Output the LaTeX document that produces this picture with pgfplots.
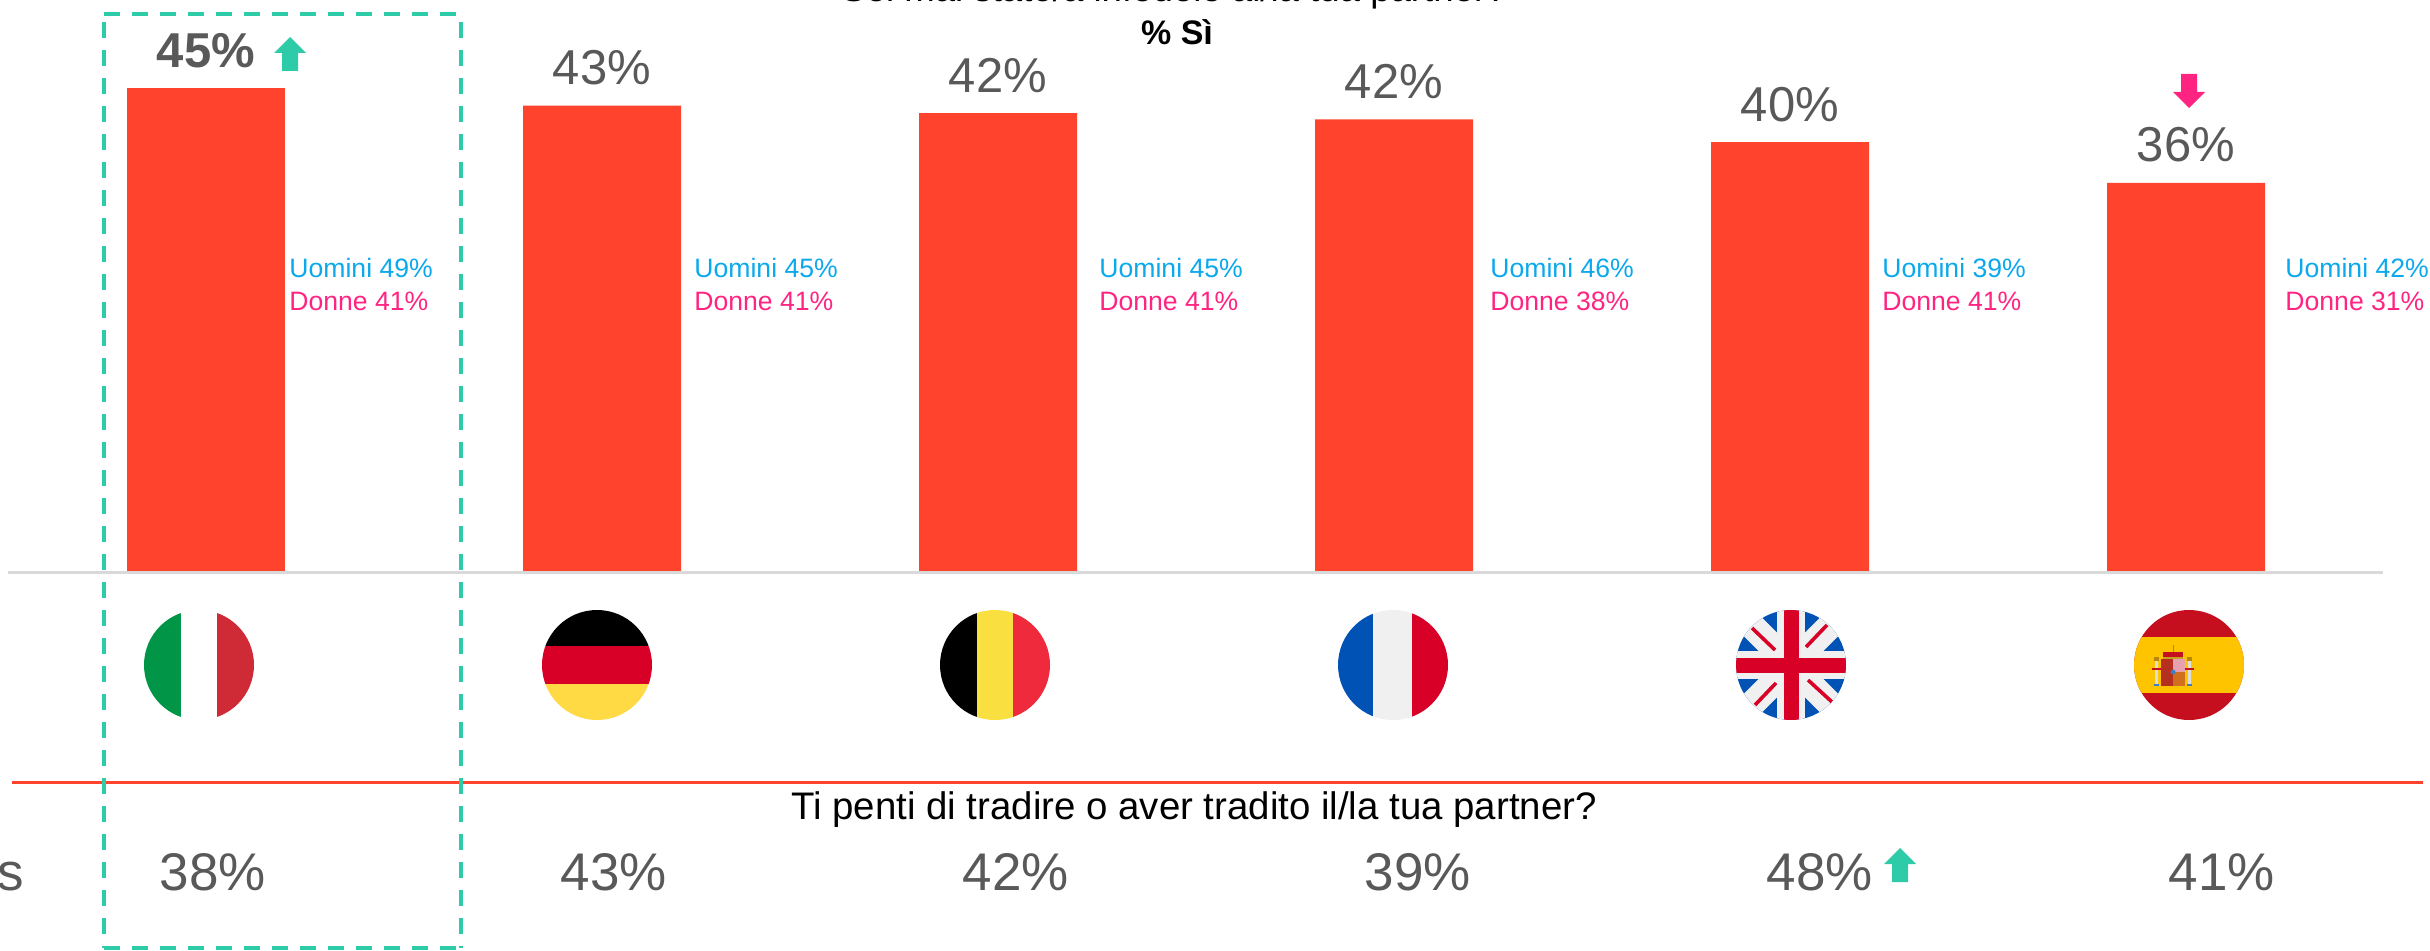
\documentclass[border=0pt]{standalone}
\usepackage{pgfplots}
\pgfplotsset{compat=1.18}
\usepackage{fontspec}
\setmainfont{Liberation Sans}
\definecolor{barred}{HTML}{FF432C}
\definecolor{txtg}{HTML}{595959}
\definecolor{teal}{HTML}{2ECBA8}
\definecolor{blu}{HTML}{0BA8EC}
\definecolor{pnk}{HTML}{FF2482}
\definecolor{fred}{HTML}{D80027}
\definecolor{fblue}{HTML}{0052B4}
\definecolor{fwhite}{HTML}{F0F0F0}
\definecolor{fgold}{HTML}{FFDA44}
\definecolor{itg}{HTML}{019547}
\definecolor{itr}{HTML}{CE2B37}
\definecolor{bey}{HTML}{FADF40}
\definecolor{ber}{HTML}{EE2A3C}
\definecolor{esr}{HTML}{C60F1E}
\definecolor{esy}{HTML}{FFC400}
\definecolor{emg}{HTML}{C8A020}
\definecolor{emd}{HTML}{B8860B}
\definecolor{emc}{HTML}{DDDDDD}
\definecolor{emb}{HTML}{3F7FBF}
\definecolor{emr}{HTML}{B5301E}
\definecolor{emp}{HTML}{E6A0B0}
\definecolor{emo}{HTML}{D0701E}
\newcommand{\uparr}[2]{\fill[teal] (#1,#2) -- ++(16,16) -- ++(-8,0) -- ++(0,18) -- ++(-16,0) -- ++(0,-18) -- ++(-8,0) -- cycle;}
\newcommand{\fM}{\fontsize{24.5}{28}\selectfont}
\newcommand{\fB}{\fontsize{26.5}{30}\selectfont}
\newcommand{\fS}{\fontsize{13.3}{16}\selectfont}
\newcommand{\fT}{\fontsize{17}{20}\selectfont}
\newcommand{\fQ}{\fontsize{19.2}{23}\selectfont}
\begin{document}
\begin{tikzpicture}
\path[use as bounding box, clip] (0,0) rectangle (1215pt,475pt);
\begin{axis}[
  at={(0,0)}, anchor=south west, scale only axis,
  width=1215pt, height=475pt,
  xmin=0, xmax=2430, ymin=-35.2558, ymax=53.1163,
  hide axis, clip=false,
  ybar, bar width=79pt, bar shift=0pt,
  point meta=explicit symbolic,
  nodes near coords={\pgfplotspointmeta\%},
  every node near coord/.append style={anchor=base, yshift=10.5pt, text=txtg, font=\fM, inner sep=0pt},
]
\addplot[draw=none, fill=barred, every node near coord/.append style={font=\fM\bfseries}] coordinates {(206,44.9) [45]};
\addplot[draw=none, fill=barred] coordinates {(602,43.3) [43] (998,42.6) [42] (1394,42.0) [42] (1790,39.9) [40] (2186,36.1) [36]};
\end{axis}
\begin{scope}[shift={(0,475pt)}, x=0.5pt, y=-0.5pt]
  % lines
  \draw[line width=1.5pt, color=black!15] (8,572) -- (2383,572);
  \draw[line width=1.5pt, color=barred] (12,782) -- (2423,782);
  % highlight box
  \draw[teal, line width=2.4pt, dash pattern=on 8pt off 6pt] (104,14) -- (461,14);
  \draw[teal, line width=2.4pt, dash pattern=on 8pt off 6pt] (104,948) -- (461,948);
  \draw[teal, line width=1.8pt, dash pattern=on 8pt off 6pt] (104,22) -- (104,948);
  \draw[teal, line width=1.8pt, dash pattern=on 8pt off 6pt] (461,22) -- (461,948);
  % titles
  \node[anchor=base, inner sep=0pt, font=\fontsize{18.3}{22}\selectfont] at (1174,2) {Sei mai stato/a infedele al/la tua partner?};
  \node[anchor=base, inner sep=0pt, font=\fT\bfseries] at (1177,45) {\% Sì};
  \node[anchor=base, inner sep=0pt, font=\fQ] at (1194,819) {Ti penti di tradire o aver tradito il/la tua partner?};
  % arrows
  \uparr{290}{37}
  \uparr{1900}{848}
  \fill[pnk] (2189,108) -- ++(16,-16) -- ++(-8,0) -- ++(0,-18) -- ++(-16,0) -- ++(0,18) -- ++(-8,0) -- cycle;
  % gender
  \foreach \x/\u/\d in {289/49/41, 694/45/41, 1099/45/41, 1490/46/38, 1882/39/41, 2285/42/31}{
    \node[anchor=base west, inner sep=0pt, font=\fS, text=blu] at (\x,277) {Uomini \u\%};
    \node[anchor=base west, inner sep=0pt, font=\fS, text=pnk] at (\x,310) {Donne \d\%};
  }
  % bottom row
  \foreach \x/\v in {213/38, 614/43, 1016/42, 1418/39, 1820/48, 2222/41}{
    \node[anchor=base, inner sep=0pt, font=\fB, text=txtg] at (\x,890) {\v\%};
  }
  \node[anchor=base east, inner sep=0pt, font=\fB, text=txtg] at (24,890) {s};
  % flags
  \begin{scope}
    \clip (199,665) circle [radius=55];
    \fill[white] (144,610) rectangle (254,720);
    \fill[itg] (144,610) rectangle (181,720);
    \fill[itr] (217,610) rectangle (254,720);
  \end{scope}
  \begin{scope}
    \clip (597,665) circle [radius=55];
    \fill[black] (542,610) rectangle (652,646);
    \fill[fred] (542,646) rectangle (652,684);
    \fill[fgold] (542,684) rectangle (652,720);
  \end{scope}
  \begin{scope}
    \clip (995,665) circle [radius=55];
    \fill[black] (940,610) rectangle (977,720);
    \fill[bey] (977,610) rectangle (1013,720);
    \fill[ber] (1013,610) rectangle (1050,720);
  \end{scope}
  \begin{scope}
    \clip (1393,665) circle [radius=55];
    \fill[fblue] (1338,610) rectangle (1373,720);
    \fill[fwhite] (1373,610) rectangle (1412,720);
    \fill[fred] (1412,610) rectangle (1448,720);
  \end{scope}
  \begin{scope}[shift={(1791,665)}]
    \clip (0,0) circle [radius=55];
    \fill[fblue] (-55,-55) rectangle (55,55);
    \draw[fwhite, line width=13pt] (-55,-55) -- (55,55);
    \draw[fwhite, line width=13pt] (-55,55) -- (55,-55);
    \draw[fred, line width=1.8pt] (-39,-37) -- (-16,-15);
    \draw[fred, line width=1.8pt] (36,-40) -- (15,-18);
    \draw[fred, line width=1.8pt] (-36,40) -- (-15,18);
    \draw[fred, line width=1.8pt] (41,37) -- (17,15);
    \fill[fwhite] (-14,-55) rectangle (14,55);
    \fill[fwhite] (-55,-14) rectangle (55,14);
    \fill[fred] (-7.5,-55) rectangle (7.5,55);
    \fill[fred] (-55,-7.5) rectangle (55,7.5);
  \end{scope}
  \begin{scope}
    \clip (2189,665) circle [radius=55];
    \fill[esr] (2134,610) rectangle (2244,720);
    \fill[esy] (2134,637) rectangle (2244,693);
    % emblem
    \fill[esr] (2163,652) rectangle (2183,659);
    \fill[emg] (2163,657) rectangle (2183,659);
    \fill[emd] (2172.5,645) rectangle (2173.5,652);
    \fill[emc] (2155,661) rectangle (2158,684);
    \fill[emc] (2188,661) rectangle (2191,684);
    \fill[emd] (2154,657) rectangle (2159,661);
    \fill[emd] (2187,657) rectangle (2192,661);
    \fill[emb] (2154,684) rectangle (2159,686);
    \fill[emb] (2187,684) rectangle (2192,686);
    \fill[esr] (2152,668) rectangle (2161,670);
    \fill[esr] (2185,668) rectangle (2194,670);
    \fill[emr] (2161,659) rectangle (2173,686);
    \fill[emp] (2173,659) rectangle (2185,672);
    \fill[emo] (2173,672) rectangle (2185,686);
    \fill[emb] (2173,672) circle [radius=2.5];
  \end{scope}
\end{scope}
\end{tikzpicture}
\end{document}
